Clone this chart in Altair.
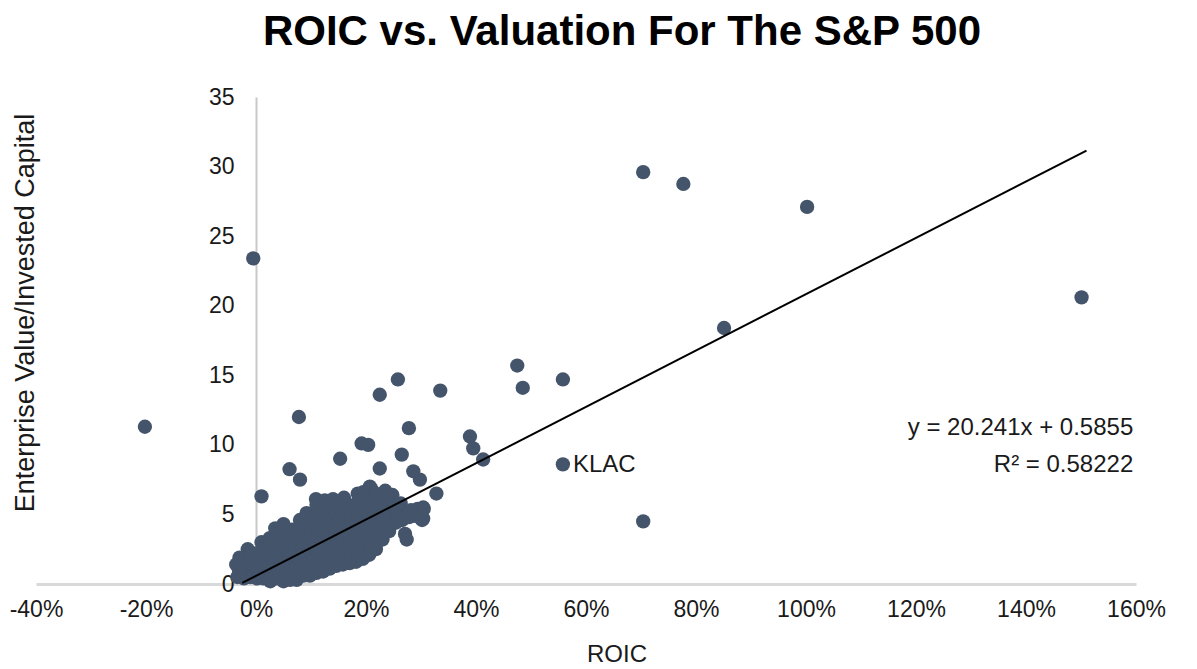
import altair as alt
import pandas as pd

# ---- outlying companies (ROIC in %, EV/IC) ----
out_roic = [-20.2, -0.5, 70.4, 77.7, 100.2, 150.1, 85.1, 47.5, 48.5, 55.8, 70.4,
            55.8, 38.9, 39.5, 41.3, 33.5, 32.8, 25.8, 22.5, 7.8, 27.8, 19.2, 20.4,
            15.3, 6.1, 8.0, 22.5, 26.5, 1.0, 28.6, 29.8, 27.1, 27.4, 30.4, 30.4, 10.9]
out_ev = [11.3, 23.4, 29.6, 28.75, 27.1, 20.6, 18.4, 15.7, 14.1, 14.7, 4.5,
          8.6, 10.6, 9.75, 8.95, 13.9, 6.5, 14.7, 13.6, 12.0, 11.2, 10.1, 10.0,
          9.0, 8.25, 7.5, 8.3, 9.3, 6.3, 8.1, 7.5, 3.6, 3.2, 5.5, 4.7, 6.1]

# ---- loose points on the rim of the dense body ----
rim_roic = [-3.0, -1.5, 1.0, 2.5, 3.5, 5.0, 8.0, 12.5, 16.0, 18.5, 21.0, 23.5, 24.8,
            6.5, 9.2, 14.0, 19.5]
rim_ev = [1.9, 2.5, 3.0, 3.3, 4.0, 4.3, 4.6, 6.0, 6.2, 6.5, 6.8, 6.7, 6.4,
          3.9, 5.1, 6.1, 6.6]

# ---- the dense body of the index (ROIC in %, EV/IC) ----
body_roic = [
    -3.4, -3.1, -3.6,
    -2.2, -1.8, -2.5, -2.0,
    -1.0, -0.6, -1.3, -0.8,
    0.2, 0.6, -0.1, 0.4, 0.0,
    1.4, 1.8, 1.1, 1.6, 1.2,
    2.6, 3.0, 2.3, 2.8, 2.4,
    3.8, 4.2, 3.5, 4.0, 3.6, 4.1,
    5.0, 5.4, 4.7, 5.2, 4.8, 5.3, 4.9,
    6.2, 6.6, 5.9, 6.4, 6.0, 6.5,
    7.4, 7.8, 7.1, 7.6, 7.2, 7.7, 7.3,
    8.6, 9.0, 8.3, 8.8, 8.4, 8.9, 8.5,
    9.8, 10.2, 9.5, 10.0, 9.6, 10.1, 9.7, 10.2,
    11.0, 11.4, 10.7, 11.2, 10.8, 11.3, 10.9, 11.4, 11.0,
    12.2, 12.6, 11.9, 12.4, 12.0, 12.5, 12.1, 12.6, 12.2,
    13.4, 13.8, 13.1, 13.6, 13.2, 13.7, 13.3, 13.8,
    14.6, 15.0, 14.3, 14.8, 14.4, 14.9, 14.5, 15.0,
    15.8, 16.2, 15.5, 16.0, 15.6, 16.1, 15.7, 16.2,
    17.0, 17.4, 16.7, 17.2, 16.8, 17.3, 16.9,
    18.2, 18.6, 17.9, 18.4, 18.0, 18.5, 18.1, 18.6,
    19.4, 19.8, 19.1, 19.6, 19.2, 19.7, 19.3,
    20.6, 21.0, 20.3, 20.8, 20.4, 20.9, 20.5, 20.7,
    21.8, 22.2, 21.5, 22.0, 21.6, 22.1, 21.7,
    23.0, 23.4, 22.7, 23.2, 22.8, 23.3,
    24.2, 24.6, 23.9, 24.4, 24.0,
    25.4, 25.8, 25.1,
    26.6, 27.0, 26.3,
    27.8, 28.2,
    29.0, 29.4,
    30.2, 30.5,
]
body_ev = [
    0.5, 1.0, 1.4,
    0.4, 0.8, 1.3, 1.8,
    0.5, 1.0, 1.5, 2.0,
    0.4, 0.8, 1.3, 1.8, 2.2,
    0.4, 0.9, 1.5, 2.1, 2.5,
    0.2, 0.7, 1.3, 1.9, 2.6,
    0.4, 1.0, 1.6, 2.3, 2.9, 3.5,
    0.2, 0.8, 1.4, 2.0, 2.7, 3.3, 3.8,
    0.3, 0.9, 1.6, 2.3, 2.9, 3.4,
    0.3, 0.7, 1.2, 1.9, 2.6, 3.2, 3.7,
    0.6, 1.1, 1.7, 2.4, 3.0, 3.6, 4.1,
    0.6, 1.0, 1.5, 2.2, 2.9, 3.5, 4.2, 4.6,
    0.8, 1.2, 1.8, 2.5, 3.2, 3.9, 4.5, 5.2, 5.7,
    0.9, 1.3, 1.8, 2.4, 3.0, 3.7, 4.3, 5.0, 5.6,
    1.1, 1.6, 2.1, 2.7, 3.4, 4.1, 4.8, 5.5,
    1.3, 1.8, 2.4, 3.0, 3.7, 4.4, 5.1, 5.6,
    1.4, 1.9, 2.5, 3.2, 3.9, 4.6, 5.3, 5.8,
    1.5, 2.0, 2.6, 3.4, 4.1, 4.8, 5.4,
    1.6, 2.2, 2.9, 3.6, 4.3, 5.0, 5.7, 6.0,
    1.8, 2.4, 3.0, 3.8, 4.5, 5.2, 5.9,
    2.1, 2.7, 3.4, 4.1, 4.8, 5.5, 6.2, 7.0,
    2.5, 3.1, 3.7, 4.4, 5.1, 5.8, 6.5,
    3.2, 3.8, 4.4, 5.1, 5.8, 6.3,
    3.8, 4.3, 4.9, 5.6, 6.1,
    4.4, 5.0, 5.7,
    4.6, 5.2, 5.8,
    4.8, 5.3,
    4.9, 5.4,
    4.6, 5.4,
]

# Excel linear trendline shown on the chart
slope = 20.241
intercept = 0.5855
trend_roic = [-0.025, 1.51]
eq_lines = ["y = 20.241x + 0.5855", "R\u00b2 = 0.58222"]
eq_ev = [11.2, 8.55]

klac_roic = [0.558]
klac_ev = [8.6]

x_ticks = [-0.4, -0.2, 0.0, 0.2, 0.4, 0.6, 0.8, 1.0, 1.2, 1.4, 1.6]
y_ticks = [0, 5, 10, 15, 20, 25, 30, 35]

FONT = "Liberation Sans"
DOT = "#44546A"
TXT = "#1a1a1a"

pts = pd.DataFrame({
    "roic": [v / 100 for v in out_roic + rim_roic + body_roic],
    "ev": out_ev + rim_ev + body_ev,
})
trend = pd.DataFrame({"roic": trend_roic,
                      "ev": [slope * v + intercept for v in trend_roic]})
eq = pd.DataFrame({"roic": [1.595, 1.595], "ev": eq_ev, "t": eq_lines})
klac = pd.DataFrame({"roic": klac_roic, "ev": klac_ev, "t": ["KLAC"]})

xscale = alt.Scale(domain=[-0.4, 1.6], nice=False, zero=False)
yscale = alt.Scale(domain=[0, 35], nice=False)

xaxis = alt.Axis(values=x_ticks, grid=False, ticks=False, tickSize=0, labelFlush=False,
                 labelExpr="(datum.value < 0 ? '-' : '') + abs(round(datum.value*100)) + '%'",
                 labelFontSize=23, labelFont=FONT, labelColor=TXT, labelPadding=14,
                 domainColor="#D9D9D9", domainWidth=3, title=None)
yaxis = alt.Axis(values=y_ticks, grid=False, ticks=False, tickSize=0, labelFlush=False,
                 offset=-220, labelFontSize=23, labelFont=FONT, labelColor=TXT,
                 labelPadding=22, domainColor="#C8C8C8", domainWidth=2, title=None)

base_x = alt.X("roic:Q", scale=xscale, axis=xaxis)
base_y = alt.Y("ev:Q", scale=yscale, axis=yaxis)

points = alt.Chart(pts).mark_circle(size=205, color=DOT, opacity=1).encode(x=base_x, y=base_y)

line = alt.Chart(trend).mark_line(color="black", strokeWidth=2).encode(
    x=alt.X("roic:Q", scale=xscale), y=alt.Y("ev:Q", scale=yscale))

eq_text = alt.Chart(eq).mark_text(align="right", baseline="middle", fontSize=24,
                                  font=FONT, color=TXT).encode(
    x=alt.X("roic:Q", scale=xscale), y=alt.Y("ev:Q", scale=yscale), text="t:N")

klac_text = alt.Chart(klac).mark_text(align="left", baseline="middle", dx=10, dy=1,
                                      fontSize=24, font=FONT, color=TXT).encode(
    x=alt.X("roic:Q", scale=xscale), y=alt.Y("ev:Q", scale=yscale), text="t:N")

ytitle = alt.Chart(pd.DataFrame({"t": ["Enterprise Value/Invested Capital"]})).mark_text(
    angle=270, align="center", baseline="middle", fontSize=27, font=FONT, color=TXT).encode(
    text="t:N", x=alt.value(-10), y=alt.value(216))

xtitle = alt.Chart(pd.DataFrame({"t": ["ROIC"]})).mark_text(
    align="center", baseline="middle", fontSize=24, font=FONT, color=TXT).encode(
    text="t:N", x=alt.value(581), y=alt.value(558))

chart = alt.layer(points, line, eq_text, klac_text, ytitle, xtitle).properties(
    width=1100, height=487,
    title=alt.TitleParams("ROIC vs. Valuation For The S&P 500", fontSize=42,
                          fontWeight="bold", font=FONT, color="black",
                          anchor="middle", dx=36, offset=32),
    padding={"left": 28, "top": 89, "right": 40, "bottom": 82},
    autosize=alt.AutoSizeParams(type="none"),
).configure(background="white").configure_view(stroke=None)

chart.save("out.html", embed_options={"renderer": "svg", "actions": False})
